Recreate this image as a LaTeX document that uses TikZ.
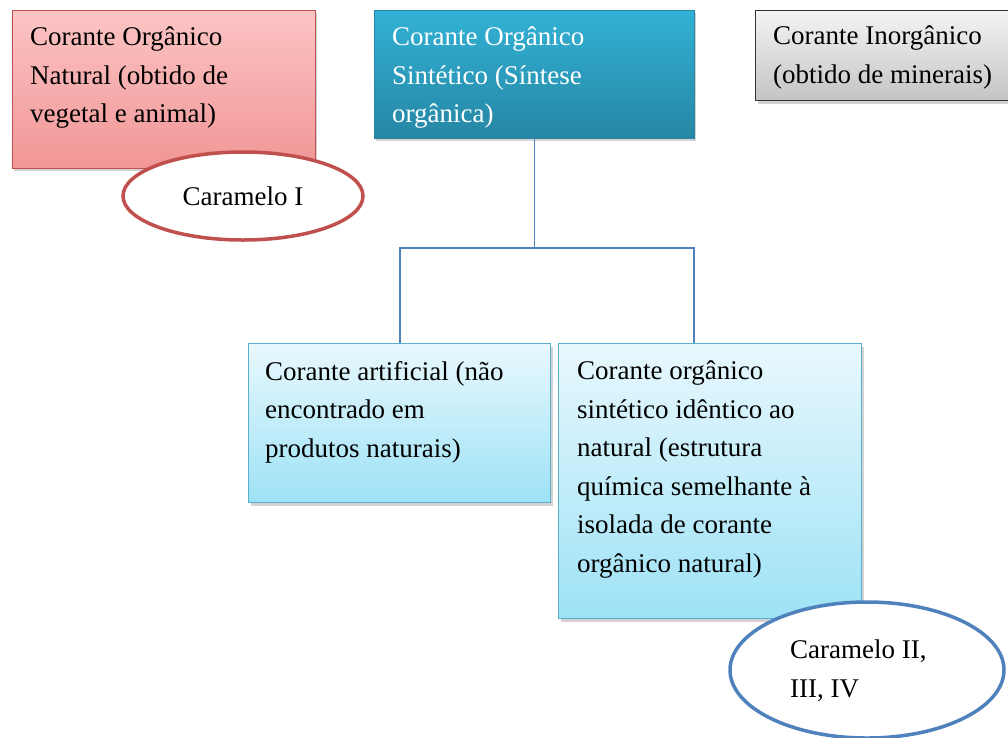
\documentclass[tikz,border=0pt]{standalone}
\usepackage{fontspec}
\setmainfont{Liberation Serif}
\usetikzlibrary{shapes.geometric,shadows,calc}
\definecolor{redb}{RGB}{192,80,77}
\definecolor{redt}{RGB}{252,196,196}
\definecolor{redbot}{RGB}{241,150,150}
\definecolor{tealt}{RGB}{50,178,214}
\definecolor{tealb}{RGB}{38,134,164}
\definecolor{grayt}{RGB}{244,244,244}
\definecolor{grayb}{RGB}{196,196,196}
\definecolor{grayd}{RGB}{50,50,50}
\definecolor{cyt}{RGB}{232,248,253}
\definecolor{cyb}{RGB}{158,226,246}
\definecolor{cyd}{RGB}{90,176,204}
\definecolor{blued}{RGB}{79,129,189}
\tikzset{
  box/.style={rectangle, anchor=north west, inner sep=0pt,
    drop shadow={opacity=0.35, shadow xshift=2pt, shadow yshift=-3pt}},
  txt/.style={anchor=north west, align=left, inner sep=0pt,
    font=\fontsize{27}{38.5}\selectfont},
  oval/.style={ellipse, draw, fill=white, line width=3.5pt, inner sep=0pt,
    align=left, font=\fontsize{27}{38.5}\selectfont},
  conn/.style={draw=blued, line width=1.3pt}
}
\begin{document}
\begin{tikzpicture}[x=1pt,y=-1pt]
\useasboundingbox (0,0) rectangle (1008,737);
\clip (0,0) rectangle (1008,737);
% boxes
\node[box, minimum width=303pt, minimum height=158pt, draw=redb, line width=0.8pt,
  top color=redt, bottom color=redbot] (b1) at (12,10) {};
\node[box, minimum width=320pt, minimum height=128pt, draw=tealb, line width=0.5pt,
  top color=tealt, bottom color=tealb] (b2) at (374,10) {};
\node[box, minimum width=270pt, minimum height=90pt, draw=grayd, line width=1.2pt,
  top color=grayt, bottom color=grayb] (b3) at (755,10) {};
\node[box, minimum width=302pt, minimum height=159pt, draw=cyd, line width=1pt,
  top color=cyt, bottom color=cyb] (b4) at (248,343) {};
\node[box, minimum width=303pt, minimum height=275pt, draw=cyd, line width=1pt,
  top color=cyt, bottom color=cyb] (b5) at (558,343) {};
% texts
\node[txt] (t1) at (30,27) {Corante Orgânico\\Natural (obtido de\\vegetal e animal)};
\node[txt, text=white] (t2) at (392,27) {Corante Orgânico\\Sintético (Síntese\\orgânica)};
\node[txt] (t3) at (773,26) {Corante Inorgânico\\(obtido de minerais)};
\node[txt] (t4) at (265,361) {Corante artificial (não\\encontrado em\\produtos naturais)};
\node[txt] (t5) at (577,361) {Corante orgânico\\sintético idêntico ao\\natural (estrutura\\química semelhante à\\isolada de corante\\orgânico natural)};
% ellipses
\node[oval, draw=redb, minimum width=240pt, minimum height=88pt] (e1) at (243,196) {Caramelo I};
\node[oval, draw=blued, minimum width=274pt, minimum height=136pt] (e2) at (867,670) {};
\node[txt] (t6) at (790,640) {Caramelo II,\\III, IV};
% connectors
\coordinate (jl) at (400,248);
\coordinate (jr) at (694,248);
\draw[conn] (b2.south) -- (b2.south |- jl);
\draw[conn] (b4.north -| jl) |- (jr) -- (jr |- b5.north);
\end{tikzpicture}
\end{document}
